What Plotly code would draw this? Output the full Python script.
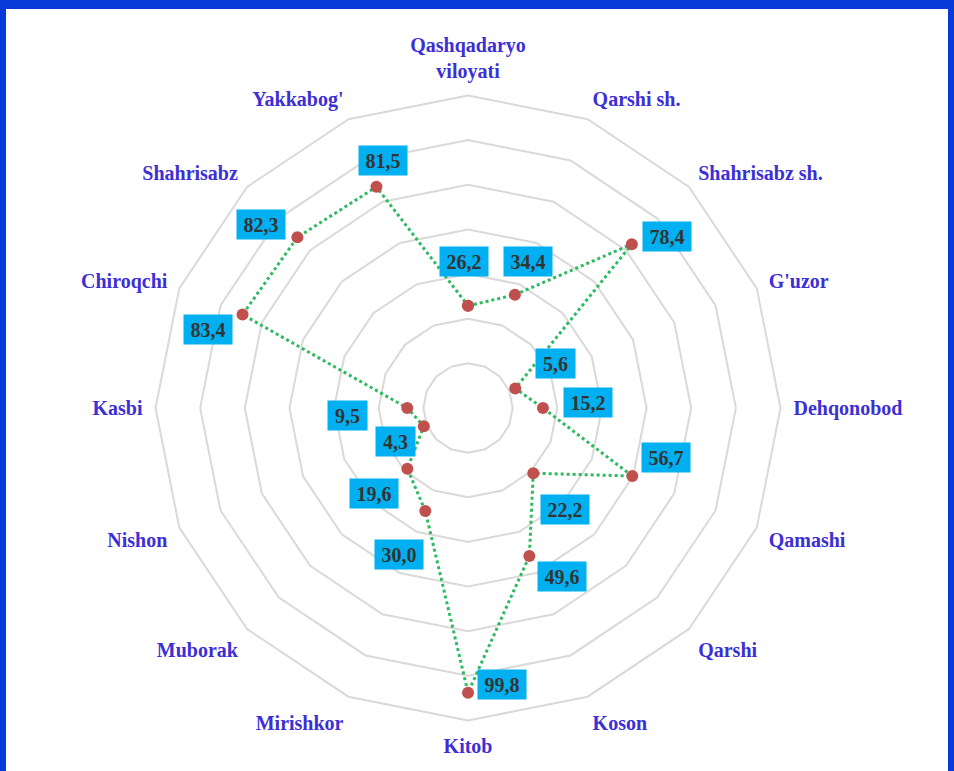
import math
import plotly.graph_objects as go

# Districts of Qashqadaryo region, clockwise from the top
categories = [
    "Qashqadaryo<br>viloyati", "Qarshi sh.", "Shahrisabz sh.", "G'uzor",
    "Dehqonobod", "Qamashi", "Qarshi", "Koson", "Kitob", "Mirishkor",
    "Muborak", "Nishon", "Kasbi", "Chiroqchi", "Shahrisabz", "Yakkabog'",
]
values = [26.2, 34.4, 78.4, 5.6, 15.2, 56.7, 22.2, 49.6,
          99.8, 30.0, 19.6, 4.3, 9.5, 83.4, 82.3, 81.5]

# pixel shift of each value box from its point (dx right, dy up)
label_shift = [
    (-4, 44), (13, 33), (35, 8), (40, 25), (45, 5), (34, 19), (32, -36), (33, -20),
    (34, 8), (-26, -43), (-33, -25), (-28, -15), (-60, -8), (-35, -15), (-36, 13), (7, 26),
]

# radial scale: 0..111 with a small empty core, rings every 18 units
r_top, r_step, n_rings = 111, 18, 7
core = 15                      # units of empty space inside the zero ring
r_edge = r_top + 1             # leaves the outermost ring as a normal grid line
span = r_edge + core
ring_vals = [r_top - k * r_step for k in range(n_rings)][::-1]

cat_color = "#3d2fd6"
box_color = "#00b0f0"
line_color = "#2dbb62"
dot_color = "#c0504d"
grid_color = "#d9d9d9"
frame_color = "#073ad8"
serif = "Liberation Serif"

dom_x = [0.1604, 0.8208]
dom_y = [0.0623, 0.8794]

fig = go.Figure()
fig.add_trace(go.Scatterpolar(
    r=values + values[:1],
    theta=categories + categories[:1],
    mode="lines+markers",
    line=dict(color=line_color, width=3, dash="dot"),
    marker=dict(color=dot_color, size=12),
    showlegend=False,
    hoverinfo="skip",
))

# value boxes sit on an invisible cartesian overlay sharing the polar frame
annotations = []
n = len(categories)
for i, (v, (dx, dy)) in enumerate(zip(values, label_shift)):
    ang = math.radians(i * 360 / n)
    rr = v + core
    txt = f"{v:.1f}".replace(".", ",")
    annotations.append(dict(
        x=rr * math.sin(ang), y=rr * math.cos(ang), xref="x", yref="y",
        text=txt, showarrow=False, xshift=dx, yshift=dy,
        width=10 + 9 * len(txt), height=27, align="center", valign="middle",
        bgcolor=box_color, borderpad=1,
        font=dict(family=serif, size=20, color="#333333", weight="bold"),
    ))

fig.update_layout(
    width=954, height=771,
    margin=dict(l=0, r=0, t=0, b=0),
    paper_bgcolor="white", plot_bgcolor="white",
    polar=dict(
        domain=dict(x=dom_x, y=dom_y),
        bgcolor="white",
        gridshape="linear",
        hole=core / span,
        radialaxis=dict(
            range=[0, r_edge], tickvals=ring_vals, showticklabels=False,
            ticks="", showline=False, gridcolor=grid_color, gridwidth=1.5,
        ),
        angularaxis=dict(
            direction="clockwise", rotation=90, showgrid=False,
            showline=False,
            ticks="outside", ticklen=6, tickcolor="rgba(0,0,0,0)",
            tickfont=dict(family=serif, size=20, color=cat_color, weight="bold"),
        ),
    ),
    xaxis=dict(domain=dom_x, range=[-span, span], visible=False, fixedrange=True),
    yaxis=dict(domain=dom_y, range=[-span, span], visible=False, fixedrange=True),
    annotations=annotations,
    shapes=[
        dict(type="rect", xref="paper", yref="paper", x0=0, x1=1, y0=1 - 9 / 771, y1=1,
             fillcolor=frame_color, line=dict(width=0)),
        dict(type="rect", xref="paper", yref="paper", x0=0, x1=6 / 954, y0=0, y1=1,
             fillcolor=frame_color, line=dict(width=0)),
        dict(type="rect", xref="paper", yref="paper", x0=1 - 6 / 954, x1=1, y0=0, y1=1,
             fillcolor=frame_color, line=dict(width=0)),
    ],
)

fig.write_html("out.html")
